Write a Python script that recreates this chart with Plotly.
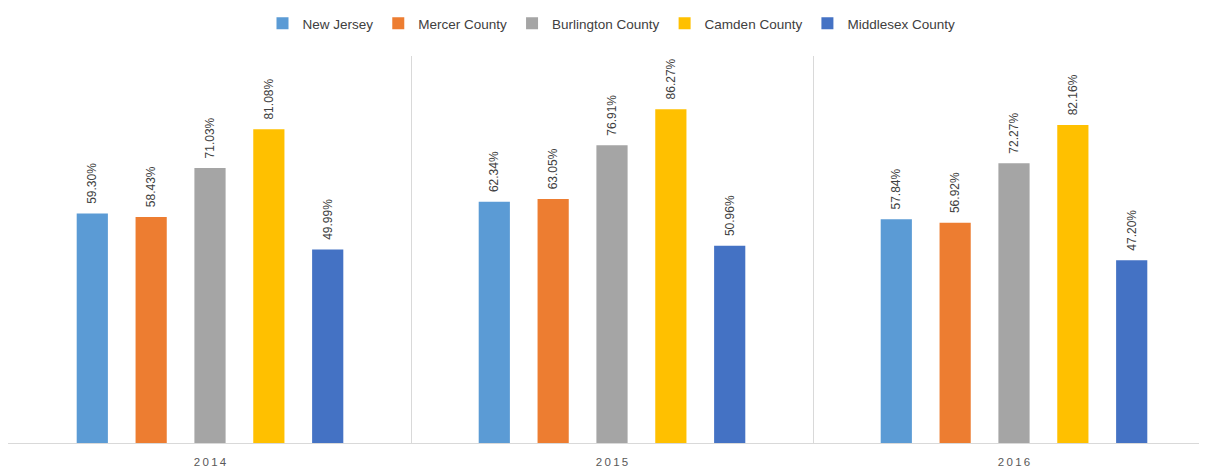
import plotly.graph_objects as go

years = ["2014", "2015", "2016"]
series_names = ["New Jersey", "Mercer County", "Burlington County", "Camden County", "Middlesex County"]
new_jersey = [0.5930, 0.6234, 0.5784]
mercer = [0.5843, 0.6305, 0.5692]
burlington = [0.7103, 0.7691, 0.7227]
camden = [0.8108, 0.8627, 0.8216]
middlesex = [0.4999, 0.5096, 0.4720]

colors = ["#5B9BD5", "#ED7D31", "#A5A5A5", "#FFC000", "#4472C4"]
all_vals = [new_jersey, mercer, burlington, camden, middlesex]

fig = go.Figure()
for name, vals, c in zip(series_names, all_vals, colors):
    fig.add_trace(go.Bar(
        x=years, y=vals, name=name,
        marker=dict(color=c, line=dict(width=0)),
        # leading nbsp pushes the rotated label a bit off the bar top
        text=["\u00a0\u00a0{:.2f}%".format(v * 100) for v in vals],
        textposition="outside", textangle=-90,
        textfont=dict(size=12, color="#404040", family="Liberation Sans"),
        constraintext="none", cliponaxis=False,
    ))

# page body adds 8px offset, margins below account for that
fig.update_layout(
    width=1207, height=468,
    barmode="group", bargap=0.268, bargroupgap=0.47,
    plot_bgcolor="white", paper_bgcolor="white",
    margin=dict(l=0, r=0, t=45, b=33),
    font=dict(family="Liberation Sans", color="#595959"),
    legend=dict(orientation="h", x=0.5, xanchor="center", y=1.085, yanchor="middle",
                font=dict(size=13.5, color="#404040"), itemwidth=30,
                traceorder="normal"),
    xaxis=dict(
        type="category", range=[-0.5025, 2.5],
        tickson="boundaries", ticks="", showgrid=True, gridcolor="#D9D9D9", gridwidth=1,
        showline=True, linecolor="#D9D9D9", linewidth=1,
        tickvals=years, ticktext=["\u2009".join(y) for y in years],
        tickfont=dict(size=11.5, color="#595959"), ticklabelstandoff=8,
    ),
    yaxis=dict(range=[0, 1.0], showgrid=False, showticklabels=False, zeroline=False),
)

fig.write_html("out.html")
